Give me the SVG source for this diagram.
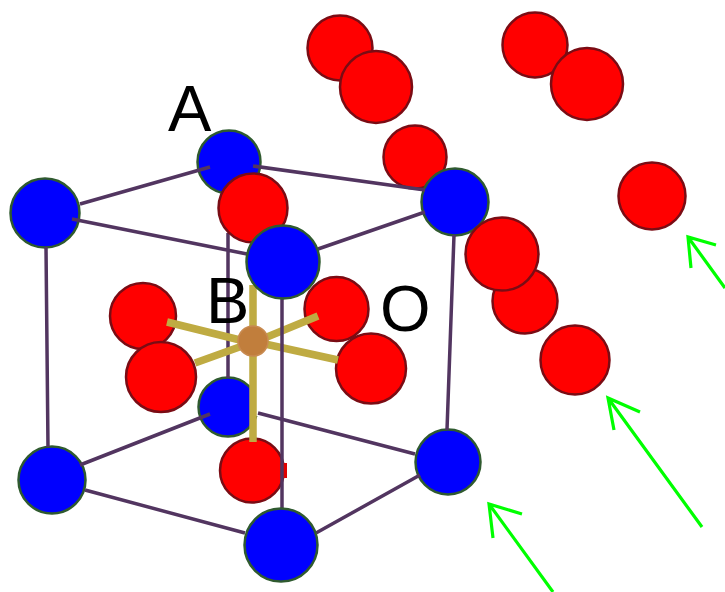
<svg xmlns="http://www.w3.org/2000/svg" width="725" height="592" viewBox="0 0 725 592">
<defs><style>
.r{fill:#f00;stroke:#7a0c14;stroke-width:2.5}
.b{fill:#00f;stroke:#2f5a2f;stroke-width:2.5}
.e{stroke:#523560;stroke-width:3.5;fill:none}
.g{stroke:#bfab42;stroke-width:7.5;fill:none}
.a{stroke:#0f0;stroke-width:3.2;fill:none}
.t{font-family:"Liberation Sans",Arial,sans-serif;font-size:65px;fill:#000}
</style></defs>
<rect width="725" height="592" fill="#fff"/>
<g id="free-oxygens">
<circle id="o1" class="r" cx="340" cy="48" r="32.500"/>
<circle id="o2" class="r" cx="376" cy="87" r="36"/>
<circle id="o3" class="r" cx="535" cy="45" r="32.500"/>
<circle id="o4" class="r" cx="587" cy="84" r="36"/>
<circle id="o5" class="r" cx="415" cy="157" r="31.500"/>
<circle id="o6" class="r" cx="652" cy="196" r="33.500"/>
<circle id="o7" class="r" cx="525" cy="301" r="32.500"/>
<circle id="o9" class="r" cx="575" cy="360" r="34.500"/>
</g>
<g id="node-back-bottom"><circle class="b" cx="228" cy="407" r="29.500"/></g>
<g id="node-back-top"><circle class="b" cx="229" cy="162" r="31.500"/></g>
<g id="node-left-top"><circle class="b" cx="45" cy="213" r="34.500"/></g>
<g id="node-left-bottom"><circle class="b" cx="52" cy="480" r="33.500"/></g>
<g id="node-right-top"><circle class="b" cx="455" cy="202" r="33.500"/></g>
<g id="node-right-bottom"><circle class="b" cx="448" cy="462" r="32.500"/></g>
<g id="node-o8"><circle class="r" cx="502" cy="254" r="36.500"/></g>
<rect x="254" y="356" width="26" height="60" fill="#fff"/>
<g id="connectors-back">
<path class="e" d="M80 204L210 167M253 166L425 190M72 219L247 254M318 249L425 212M454 235L447 430M46 247L48 447M228 233V378M80 465L210 414M258 413L415 454M85 490L245 533M316 533L420 475"/>
</g>
<g id="node-o-top"><circle class="r" cx="253" cy="208" r="34.500"/></g>
<g id="node-o-left-back"><circle class="r" cx="143" cy="316" r="33"/></g>
<g id="node-o-left-front"><circle class="r" cx="161" cy="377" r="35"/></g>
<g id="node-o-right-back"><circle class="r" cx="336.500" cy="309" r="32"/></g>
<g id="node-o-right-front"><circle class="r" cx="371" cy="368.500" r="35"/></g>
<g id="node-o-bottom"><circle class="r" cx="252" cy="470.500" r="32"/><rect x="280" y="463" width="7" height="15" fill="#e00000"/></g>
<g id="connectors-bonds">
<path class="g" d="M253 285V442M167 322L240 340M195 363L245 345M267 337L318 316M265 344L338 360"/>
</g>
<g id="node-b"><circle cx="253" cy="341" r="15" fill="#c17e3c" stroke="#c88a50" stroke-width="1.500"/></g>
<g id="connectors-front"><path class="e" d="M282 298V510"/></g>
<g id="node-front-top"><circle class="b" cx="283" cy="262" r="36.500"/></g>
<g id="node-front-bottom"><circle class="b" cx="281" cy="545" r="36.500"/></g>
<g id="arrows">
<path class="a" d="M553 592L489 504M522 514L489 504L493 538"/>
<path class="a" d="M702 527L608 398M640 412L608 398L614 430"/>
<path class="a" d="M725 288L688 237M716 245L688 237L691 268"/>
</g>
<g id="labels">
<text class="t" x="168" y="131">A</text>
<text class="t" x="206" y="323">B</text>
<text class="t" x="380" y="331">O</text>
</g>
</svg>
